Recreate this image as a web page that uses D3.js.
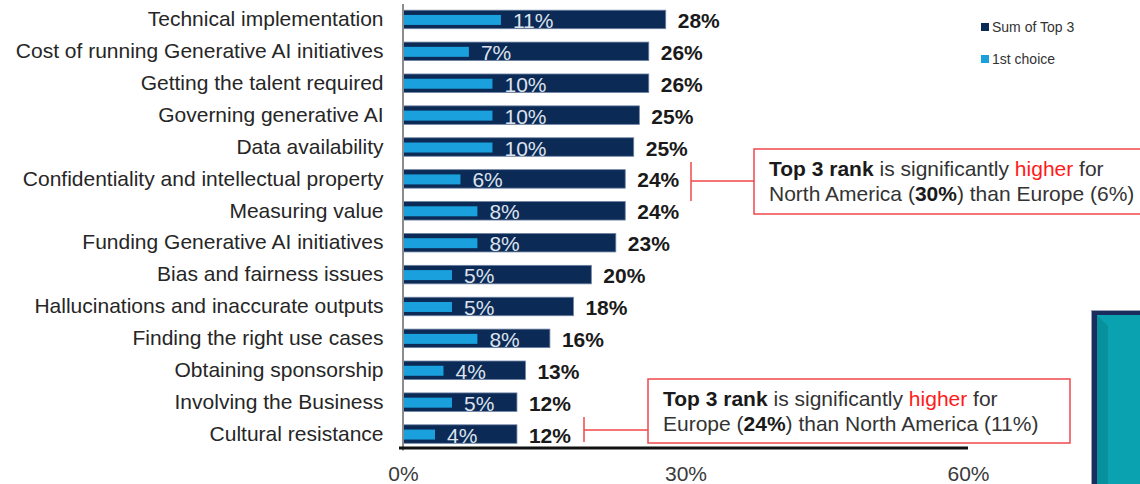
<!DOCTYPE html>
<html>
<head>
<meta charset="utf-8">
<script src="https://cdn.jsdelivr.net/npm/d3@7"></script>
<style>
  body { margin: 0; background: #fff; }
  svg { display: block; font-family: "Liberation Sans", Arial, sans-serif; }
</style>
</head>
<body>
<svg class="main" width="1140" height="484"></svg>
<script>
// data
var categories = [
    "Technical implementation",
    "Cost of running Generative AI initiatives",
    "Getting the talent required",
    "Governing generative AI",
    "Data availability",
    "Confidentiality and intellectual property",
    "Measuring value",
    "Funding Generative AI initiatives",
    "Bias and fairness issues",
    "Hallucinations and inaccurate outputs",
    "Finding the right use cases",
    "Obtaining sponsorship",
    "Involving the Business",
    "Cultural resistance"
];
// bar lengths (unrounded, as drawn) and printed labels
var top3 = [27.9, 26.1, 26.1, 25.1, 24.5, 23.6, 23.6, 22.6, 20.0, 18.1, 15.6, 13.0, 12.1, 12.1];
var top3Labels = [28, 26, 26, 25, 25, 24, 24, 23, 20, 18, 16, 13, 12, 12];
var first = [10.4, 7.0, 9.5, 9.5, 9.5, 6.1, 7.9, 7.9, 5.2, 5.2, 7.9, 4.3, 5.2, 3.4];
var firstLabels = [11, 7, 10, 10, 10, 6, 8, 8, 5, 5, 8, 4, 5, 4];
var xTicks = [0, 30, 60];
var legendItems = ["Sum of Top 3", "1st choice"];

var navy = "#0c2a56",
    sky = "#1aa0dc",
    red = "#f0484c",
    fontSize = 21;

var svg = d3.select(".main");

var x = d3.scaleLinear().domain([0, 60]).range([403, 968]);
var y = d3.scaleBand().domain(categories).range([3.5, 450])
    .paddingInner(0.42).paddingOuter(0.21);
var bw = y.bandwidth();

// bars
var rows = svg.append("g").selectAll("g")
    .data(categories)
    .join("g")
    .attr("transform", function(d) { return "translate(0," + y(d) + ")"; });

rows.append("rect")
    .attr("x", x(0))
    .attr("y", 0)
    .attr("width", function(d, i) { return x(top3[i]) - x(0); })
    .attr("height", bw)
    .attr("fill", navy)
    .attr("stroke", "#6d82a3")
    .attr("stroke-width", 0.8);

rows.append("rect")
    .attr("x", x(0))
    .attr("y", bw / 2 - 4.5)
    .attr("width", function(d, i) { return x(first[i]) - x(0); })
    .attr("height", 10)
    .attr("fill", sky);

rows.append("text")
    .attr("x", function(d, i) { return x(first[i]) + 12; })
    .attr("y", bw / 2 + 1)
    .attr("dy", "0.36em")
    .attr("font-size", fontSize)
    .attr("fill", "#dde2ec")
    .text(function(d, i) { return firstLabels[i] + "%"; });

rows.append("text")
    .attr("x", function(d, i) { return x(top3[i]) + 12; })
    .attr("y", bw / 2 + 1)
    .attr("dy", "0.36em")
    .attr("font-size", fontSize)
    .attr("font-weight", "bold")
    .attr("fill", "#1a1a1a")
    .text(function(d, i) { return top3Labels[i] + "%"; });

// left axis (categories)
var yAxis = svg.append("g")
    .attr("transform", "translate(" + 402.5 + ",0)")
    .call(d3.axisLeft(y).tickSize(0).tickPadding(19));
yAxis.select(".domain").attr("stroke", "#8c8c8c").attr("stroke-width", 2);
yAxis.selectAll("text")
    .attr("font-size", fontSize)
    .attr("font-family", null)
    .attr("fill", "#262626");

// bottom axis
var xAxis = svg.append("g")
    .attr("transform", "translate(0,448)")
    .call(d3.axisBottom(x).tickValues(xTicks).tickSize(0).tickPadding(18)
        .tickFormat(function(d) { return d + "%"; }));
xAxis.select(".domain")
    .attr("d", "M" + (x(0) - 4) + ",0H" + x(60))
    .attr("stroke", "#111").attr("stroke-width", 3);
xAxis.selectAll("text")
    .attr("font-size", fontSize)
    .attr("font-family", null)
    .attr("fill", "#3a3a3a");

// legend
var legend = svg.append("g").attr("transform", "translate(981,0)");
legendItems.forEach(function(name, i) {
    var g = legend.append("g").attr("transform", "translate(0," + (27 + i * 32) + ")");
    g.append("rect").attr("x", 0).attr("y", -4).attr("width", 8).attr("height", 8)
        .attr("fill", i === 0 ? navy : sky);
    g.append("text").attr("x", 11).attr("y", 0).attr("dy", "0.36em")
        .attr("font-size", 14).attr("fill", "#333").text(name);
});

// annotations
function note(cat, bx, bracketX, box, lines, span) {
    var cy = y(cat) + bw / 2;
    var g = svg.append("g");
    g.append("path")
        .attr("d", "M" + bracketX + "," + (cy + span[0]) + "V" + (cy + span[1]) +
              "M" + bracketX + "," + (cy + span[2]) + "H" + box[0])
        .attr("fill", "none").attr("stroke", red).attr("stroke-width", 1.5);
    g.append("rect")
        .attr("x", box[0]).attr("y", box[1]).attr("width", box[2]).attr("height", box[3])
        .attr("fill", "#fff").attr("stroke", red).attr("stroke-width", 1.5);
    lines.forEach(function(parts, li) {
        var t = g.append("text")
            .attr("x", bx).attr("y", box[1] + 27 + li * 25)
            .attr("font-size", fontSize).attr("fill", "#333");
        parts.forEach(function(p) {
            t.append("tspan").text(p[0])
                .attr("font-weight", p[1] === "b" ? "bold" : null)
                .attr("fill", p[1] === "r" ? "#ff1a1a" : (p[1] === "b" ? "#1a1a1a" : null));
        });
    });
}

note(categories[5], 769, 691, [754, 149, 400, 65], [
    [["Top 3 rank", "b"], [" is significantly ", ""], ["higher", "r"], [" for", ""]],
    [["North America (", ""], ["30%", "b"], [") than Europe (6%)", ""]]
], [-17, 22, 2]);

note(categories[13], 663, 584, [648, 379, 422, 64], [
    [["Top 3 rank", "b"], [" is significantly ", ""], ["higher", "r"], [" for", ""]],
    [["Europe (", ""], ["24%", "b"], [") than North America (11%)", ""]]
], [-17, 8, -4]);

// decorative slide shape at bottom right
var deco = svg.append("g");
deco.append("rect").attr("x", 1091.5).attr("y", 310.5).attr("width", 60).attr("height", 180)
    .attr("fill", "#1b2d5c").attr("stroke", "#9aa3b5").attr("stroke-width", 1);
deco.append("rect").attr("x", 1097).attr("y", 315).attr("width", 50).attr("height", 175)
    .attr("fill", "#0aa2b0");
deco.append("path").attr("d", "M1097,315L1108,326V490H1097Z").attr("fill", "#06919c");
</script>
</body>
</html>
